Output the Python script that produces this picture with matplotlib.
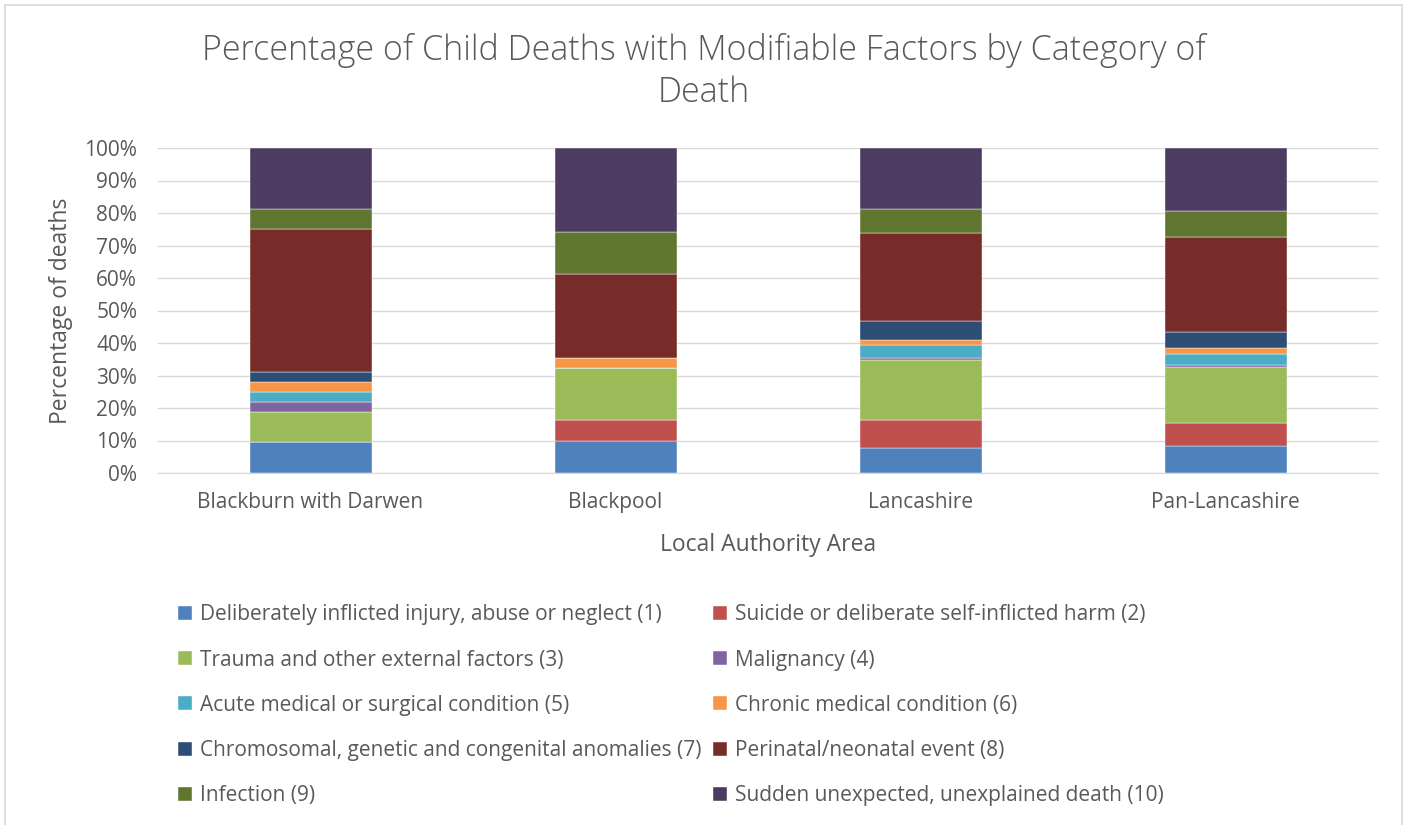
import numpy as np
import matplotlib.pyplot as plt
from matplotlib.patches import Rectangle

areas = ['Blackburn with Darwen', 'Blackpool', 'Lancashire', 'Pan-Lancashire']

categories = [
    'Deliberately inflicted injury, abuse or neglect (1)',
    'Suicide or deliberate self-inflicted harm (2)',
    'Trauma and other external factors (3)',
    'Malignancy (4)',
    'Acute medical or surgical condition (5)',
    'Chronic medical condition (6)',
    'Chromosomal, genetic and congenital anomalies (7)',
    'Perinatal/neonatal event (8)',
    'Infection (9)',
    'Sudden unexpected, unexplained death (10)',
]

# percentage of deaths per category, one list per category (order = areas)
deliberate = [9.4, 9.7, 7.7, 8.2]
suicide = [0.0, 6.5, 8.6, 7.3]
trauma = [9.4, 16.1, 18.6, 17.1]
malignancy = [3.1, 0.0, 0.5, 0.7]
acute = [3.1, 0.0, 3.9, 3.2]
chronic = [3.1, 3.2, 1.5, 2.1]
chromosomal = [3.1, 0.0, 5.9, 4.9]
perinatal = [43.8, 25.8, 27.2, 29.0]
infection = [6.3, 12.9, 7.4, 8.1]
sudden = [18.8, 25.8, 18.7, 19.4]

series = [deliberate, suicide, trauma, malignancy, acute, chronic,
          chromosomal, perinatal, infection, sudden]

colors = ['#4f81bd', '#c0504d', '#9bbb59', '#8064a2', '#4bacc6',
          '#f79646', '#2c4d75', '#772c2a', '#5f7530', '#4d3b62']

plt.rcParams['font.family'] = ['Open Sans', 'DejaVu Sans']
grey = '#595959'

fig = plt.figure(figsize=(14.07, 8.25), dpi=100)
ax = fig.add_axes([158 / 1407, 1 - 473 / 825, (1378 - 158) / 1407, (473 - 148) / 825])

# outer chart border
fig.patches.append(Rectangle((5 / 1407, -0.01), 1397 / 1407, 1 - 5 / 825 + 0.01,
                             transform=fig.transFigure, fill=False,
                             edgecolor='#d9d9d9', linewidth=1.2))

x = np.arange(len(areas))
bottom = np.zeros(len(areas))
handles = []
for vals, col, lab in zip(series, colors, categories):
    v = np.array(vals)
    b = ax.bar(x, v, width=0.4, bottom=bottom, color=col, label=lab,
               edgecolor='white', linewidth=0.3)
    bottom += v
    handles.append(b)

ax.set_xlim(-0.5, 3.5)
ax.set_ylim(0, 100)
ax.set_yticks(np.arange(0, 101, 10))
ax.set_yticklabels([f'{t}%' for t in range(0, 101, 10)])
ax.set_xticks(x)
ax.set_xticklabels(areas)
ax.yaxis.grid(True, color='#d9d9d9', linewidth=1)
ax.set_axisbelow(True)
for s in ['top', 'right', 'left']:
    ax.spines[s].set_visible(False)
ax.spines['bottom'].set_color('#d9d9d9')
ax.tick_params(axis='both', length=0, colors=grey, labelsize=15)
ax.tick_params(axis='x', pad=14)
ax.tick_params(axis='y', pad=15)

ax.set_ylabel('Percentage of deaths', fontsize=16.5, color=grey, labelpad=8)
ax.set_xlabel('Local Authority Area', fontsize=16.5, color=grey, labelpad=14)

fig.text(0.5, 1 - 50 / 825, 'Percentage of Child Deaths with Modifiable Factors by Category of',
         ha='center', va='center', fontsize=24.5, color=grey, fontweight='light')
fig.text(0.5, 1 - 93 / 825, 'Death', ha='center', va='center', fontsize=24.5, color=grey,
         fontweight='light')

order = [0, 2, 4, 6, 8, 1, 3, 5, 7, 9]
leg = fig.legend([handles[i] for i in order], [categories[i] for i in order],
                 ncol=2, loc='upper left', bbox_to_anchor=(168 / 1407, 1 - 594 / 825),
                 frameon=False, fontsize=15, handlelength=0.65, handleheight=0.65,
                 handletextpad=0.4, columnspacing=0.55, labelspacing=1.16,
                 borderpad=0)
for t in leg.get_texts():
    t.set_color(grey)

fig.savefig('out.png', dpi=100)
